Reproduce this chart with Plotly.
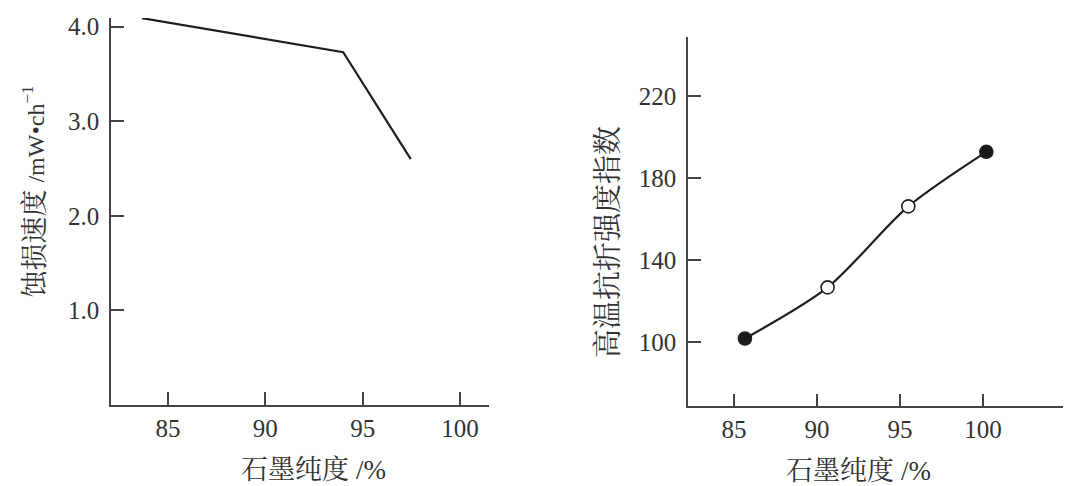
import plotly.graph_objects as go

# Left chart: erosion rate vs graphite purity
left_purity = [83.66, 94.0, 97.47]
left_rate = [4.09, 3.73, 2.60]
left_xticks = [85, 90, 95, 100]
left_yticks = [1.0, 2.0, 3.0, 4.0]
left_ytick_labels = ["1.0", "2.0", "3.0", "4.0"]

# Right chart: high-temperature flexural strength index vs graphite purity
right_purity = [85.66, 90.64, 95.5, 100.2]
right_index = [101.8, 126.7, 166.2, 192.8]
right_marker_fill = ["#1a1a1a", "white", "white", "#1a1a1a"]
right_xticks = [85, 90, 95, 100]
right_yticks = [100, 140, 180, 220]

OFF = 8  # page body margin
W, H = 1071 - OFF, 486 - OFF
def px(x):
    return (x - OFF) / W
def py(y):
    return 1 - (y - OFF) / H

fig = go.Figure()
fig.add_trace(go.Scatter(x=left_purity, y=left_rate, mode="lines",
                         line=dict(color="#1f1f1f", width=2.2),
                         xaxis="x", yaxis="y", showlegend=False))
fig.add_trace(go.Scatter(x=right_purity, y=right_index, mode="lines+markers",
                         line=dict(color="#1f1f1f", width=2.2, shape="spline", smoothing=0.8),
                         marker=dict(size=13, color=right_marker_fill,
                                     line=dict(color="#1f1f1f", width=1.6)),
                         cliponaxis=False,
                         xaxis="x2", yaxis="y2", showlegend=False))

tickfont = dict(family="Liberation Serif", size=25, color="#333333")
axis_common = dict(showline=True, linecolor="#444444", linewidth=1.5,
                   showgrid=False, zeroline=False, ticks="inside",
                   ticklen=13, tickwidth=1.5, tickcolor="#444444",
                   tickfont=tickfont, fixedrange=True)

fig.update_layout(
    width=W, height=H,
    margin=dict(l=0, r=0, t=0, b=0),
    paper_bgcolor="white", plot_bgcolor="white",
    xaxis=dict(domain=[px(111), px(489)], range=[82.07, 101.49],
               tickvals=left_xticks, anchor="y", ticklabelstandoff=0, **axis_common),
    yaxis=dict(domain=[py(404.3), py(14)], range=[0, 4.092],
               tickvals=left_yticks, ticktext=left_ytick_labels, anchor="x",
               ticklabelstandoff=5, **axis_common),
    xaxis2=dict(domain=[px(688), px(1068)], range=[82.23, 105.12],
                tickvals=right_xticks, anchor="y2", ticklabelstandoff=0, **axis_common),
    yaxis2=dict(domain=[py(405.7), py(33)], range=[68.73, 248.85],
                tickvals=right_yticks, anchor="x2", ticklabelstandoff=5, **axis_common),
)

cjk = "Noto Serif CJK SC, Noto Sans CJK SC"
def note(text, x, y, size, angle=0):
    fig.add_annotation(text=text, x=px(x), y=py(y), xref="paper", yref="paper",
                       xanchor="center", yanchor="middle", textangle=angle,
                       showarrow=False, font=dict(family=cjk, size=size, color="#333333"))

note("石墨纯度 <span style='font-family:Liberation Serif'>/%</span>", 313, 467, 27)
note("石墨纯度 <span style='font-family:Liberation Serif'>/%</span>", 858, 468, 27)
note("蚀损速度 <span style='font-family:Liberation Serif;font-size:24px'>/mW•ch<sup>−1</sup></span>",
     32, 189, 27, angle=-90)
note("高温抗折强度指数", 605, 240, 29, angle=-90)

fig.write_html("out.html")
